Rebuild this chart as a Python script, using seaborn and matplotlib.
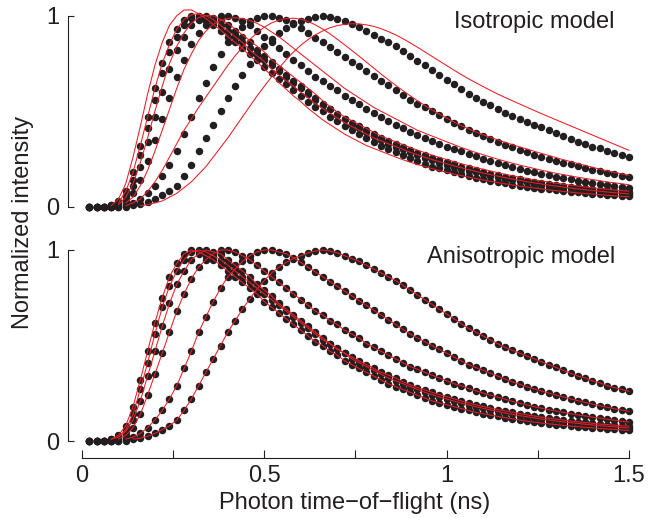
import matplotlib
matplotlib.use("Agg")
import matplotlib.pyplot as plt
import seaborn as sns
import pandas as pd
import numpy as np

# time bins (ns), one every 20 ps
t_ns = np.round(np.arange(1, 76) * 0.02, 2)

curve_a = [0, 0, 0, 0.01, 0.03, 0.08, 0.18, 0.32, 0.47, 0.62,
           0.75, 0.86, 0.93, 0.98, 1.00, 0.99, 0.97, 0.95, 0.92, 0.89,
           0.86, 0.83, 0.80, 0.77, 0.73, 0.70, 0.67, 0.64, 0.61, 0.58,
           0.55, 0.52, 0.50, 0.47, 0.45, 0.42, 0.40, 0.38, 0.36, 0.34,
           0.32, 0.30, 0.285, 0.27, 0.255, 0.24, 0.225, 0.21, 0.20, 0.19,
           0.18, 0.17, 0.16, 0.15, 0.143, 0.136, 0.129, 0.122, 0.116, 0.110,
           0.104, 0.099, 0.094, 0.090, 0.086, 0.082, 0.078, 0.075, 0.072, 0.069,
           0.066, 0.063, 0.061, 0.058, 0.056]
curve_b = [0, 0, 0, 0.01, 0.02, 0.06, 0.14, 0.27, 0.41, 0.56,
           0.70, 0.81, 0.89, 0.95, 0.99, 1.00, 0.99, 0.97, 0.95, 0.92,
           0.89, 0.86, 0.83, 0.80, 0.77, 0.74, 0.71, 0.68, 0.65, 0.62,
           0.59, 0.56, 0.53, 0.51, 0.48, 0.46, 0.43, 0.41, 0.39, 0.37,
           0.35, 0.33, 0.315, 0.30, 0.285, 0.27, 0.255, 0.243, 0.231, 0.22,
           0.209, 0.199, 0.189, 0.180, 0.171, 0.163, 0.155, 0.147, 0.140, 0.133,
           0.127, 0.121, 0.115, 0.110, 0.105, 0.100, 0.096, 0.092, 0.088, 0.084,
           0.080, 0.077, 0.074, 0.071, 0.068]
curve_c = [0, 0, 0, 0, 0.02, 0.05, 0.11, 0.21, 0.34, 0.47,
           0.60, 0.72, 0.82, 0.89, 0.95, 0.98, 1.00, 0.99, 0.98, 0.95,
           0.92, 0.89, 0.86, 0.82, 0.79, 0.76, 0.72, 0.69, 0.66, 0.63,
           0.60, 0.57, 0.54, 0.51, 0.485, 0.46, 0.44, 0.42, 0.40, 0.38,
           0.36, 0.345, 0.33, 0.31, 0.295, 0.28, 0.268, 0.255, 0.243, 0.232,
           0.221, 0.21, 0.20, 0.19, 0.181, 0.173, 0.165, 0.158, 0.151, 0.144,
           0.137, 0.131, 0.125, 0.12, 0.115, 0.11, 0.105, 0.101, 0.097, 0.093,
           0.089, 0.086, 0.083, 0.080, 0.078]
curve_d = [0, 0, 0, 0, 0.01, 0.03, 0.07, 0.14, 0.24, 0.35,
           0.46, 0.57, 0.68, 0.77, 0.85, 0.91, 0.95, 0.98, 1.00, 1.00,
           0.99, 0.97, 0.95, 0.92, 0.89, 0.86, 0.83, 0.80, 0.77, 0.74,
           0.71, 0.68, 0.66, 0.63, 0.61, 0.58, 0.56, 0.54, 0.51, 0.49,
           0.47, 0.45, 0.43, 0.41, 0.39, 0.375, 0.36, 0.345, 0.33, 0.315,
           0.30, 0.29, 0.275, 0.263, 0.251, 0.240, 0.230, 0.219, 0.208, 0.198,
           0.189, 0.180, 0.172, 0.164, 0.157, 0.150, 0.143, 0.137, 0.131, 0.125,
           0.120, 0.114, 0.109, 0.104, 0.100]
curve_e = [0, 0, 0, 0, 0, 0.01, 0.02, 0.04, 0.07, 0.11,
           0.16, 0.22, 0.29, 0.38, 0.47, 0.57, 0.65, 0.73, 0.80, 0.86,
           0.90, 0.94, 0.97, 0.99, 1.00, 1.00, 0.99, 0.98, 0.96, 0.935,
           0.91, 0.885, 0.86, 0.835, 0.81, 0.785, 0.76, 0.735, 0.71, 0.685,
           0.66, 0.635, 0.61, 0.585, 0.56, 0.54, 0.52, 0.50, 0.48, 0.46,
           0.44, 0.42, 0.40, 0.385, 0.37, 0.355, 0.34, 0.325, 0.31, 0.297,
           0.285, 0.273, 0.262, 0.251, 0.241, 0.231, 0.221, 0.211, 0.202, 0.193,
           0.185, 0.177, 0.169, 0.162, 0.155]
curve_f = [0, 0, 0, 0, 0, 0, 0.01, 0.015, 0.025, 0.04,
           0.06, 0.08, 0.11, 0.16, 0.22, 0.29, 0.36, 0.43, 0.50, 0.57,
           0.63, 0.69, 0.745, 0.795, 0.84, 0.88, 0.91, 0.935, 0.955, 0.97,
           0.985, 0.995, 1.00, 0.995, 0.985, 0.97, 0.955, 0.94, 0.92, 0.90,
           0.88, 0.86, 0.84, 0.815, 0.79, 0.765, 0.74, 0.715, 0.69, 0.665,
           0.64, 0.615, 0.59, 0.57, 0.55, 0.53, 0.51, 0.49, 0.475, 0.46,
           0.445, 0.43, 0.415, 0.40, 0.385, 0.37, 0.355, 0.34, 0.33, 0.315,
           0.305, 0.29, 0.28, 0.27, 0.26]

# isotropic-model fits (top panel)
iso_a = [0, 0, 0, 0.005, 0.04, 0.12, 0.26, 0.42, 0.59, 0.74,
         0.86, 0.95, 1.00, 1.03, 1.03, 1.01, 0.985, 0.955, 0.925, 0.89,
         0.86, 0.83, 0.79, 0.76, 0.72, 0.69, 0.65, 0.615, 0.58, 0.55,
         0.515, 0.485, 0.455, 0.43, 0.405, 0.38, 0.36, 0.34, 0.32, 0.305,
         0.29, 0.275, 0.26, 0.246, 0.233, 0.221, 0.21, 0.199, 0.189, 0.18,
         0.171, 0.163, 0.155, 0.147, 0.140, 0.133, 0.126, 0.120, 0.114, 0.108,
         0.103, 0.098, 0.093, 0.088, 0.084, 0.080, 0.076, 0.072, 0.069, 0.066,
         0.063, 0.060, 0.057, 0.054, 0.052]
iso_b = [0, 0, 0, 0, 0.02, 0.08, 0.18, 0.32, 0.47, 0.62,
         0.75, 0.85, 0.93, 0.98, 1.005, 1.01, 1.00, 0.98, 0.95, 0.92,
         0.89, 0.86, 0.82, 0.79, 0.76, 0.72, 0.69, 0.66, 0.63, 0.60,
         0.57, 0.54, 0.515, 0.49, 0.465, 0.44, 0.42, 0.40, 0.38, 0.36,
         0.345, 0.33, 0.315, 0.30, 0.285, 0.272, 0.259, 0.247, 0.236, 0.225,
         0.214, 0.204, 0.194, 0.185, 0.176, 0.168, 0.160, 0.152, 0.145, 0.138,
         0.131, 0.125, 0.119, 0.113, 0.108, 0.103, 0.098, 0.093, 0.089, 0.085,
         0.081, 0.077, 0.073, 0.070, 0.067]
iso_c = [0, 0, 0, 0, 0.01, 0.05, 0.12, 0.23, 0.36, 0.50,
         0.63, 0.75, 0.84, 0.91, 0.96, 0.99, 1.00, 1.00, 0.98, 0.96,
         0.93, 0.90, 0.87, 0.84, 0.81, 0.77, 0.74, 0.71, 0.68, 0.65,
         0.62, 0.59, 0.555, 0.525, 0.495, 0.47, 0.45, 0.43, 0.41, 0.39,
         0.37, 0.355, 0.34, 0.325, 0.31, 0.296, 0.283, 0.27, 0.258, 0.247,
         0.236, 0.225, 0.215, 0.205, 0.196, 0.187, 0.178, 0.170, 0.162, 0.155,
         0.148, 0.141, 0.135, 0.129, 0.123, 0.118, 0.113, 0.108, 0.103, 0.099,
         0.095, 0.091, 0.087, 0.084, 0.081]
iso_d = [0, 0, 0, 0, 0, 0.02, 0.05, 0.11, 0.19, 0.29,
         0.40, 0.51, 0.62, 0.72, 0.80, 0.87, 0.92, 0.955, 0.975, 0.985,
         0.99, 0.985, 0.975, 0.96, 0.94, 0.915, 0.89, 0.86, 0.83, 0.80,
         0.77, 0.74, 0.71, 0.68, 0.65, 0.62, 0.595, 0.57, 0.545, 0.52,
         0.50, 0.48, 0.46, 0.44, 0.42, 0.40, 0.385, 0.37, 0.355, 0.34,
         0.325, 0.31, 0.297, 0.284, 0.272, 0.26, 0.249, 0.238, 0.228, 0.218,
         0.209, 0.20, 0.191, 0.183, 0.175, 0.168, 0.161, 0.154, 0.148, 0.142,
         0.136, 0.130, 0.125, 0.120, 0.115]
iso_e = [0, 0, 0, 0, 0, 0.005, 0.02, 0.04, 0.08, 0.13,
         0.19, 0.26, 0.33, 0.40, 0.46, 0.52, 0.575, 0.63, 0.685, 0.74,
         0.79, 0.835, 0.875, 0.91, 0.94, 0.962, 0.977, 0.985, 0.987, 0.982,
         0.97, 0.952, 0.93, 0.905, 0.877, 0.848, 0.818, 0.788, 0.757, 0.726,
         0.695, 0.665, 0.636, 0.608, 0.581, 0.555, 0.53, 0.507, 0.485, 0.464,
         0.444, 0.425, 0.408, 0.392, 0.377, 0.363, 0.35, 0.337, 0.325, 0.313,
         0.302, 0.29, 0.279, 0.268, 0.257, 0.246, 0.236, 0.226, 0.216, 0.206,
         0.197, 0.188, 0.18, 0.172, 0.165]
iso_f = [0, 0, 0, 0, 0, 0, 0, 0.005, 0.01, 0.02,
         0.03, 0.05, 0.07, 0.10, 0.13, 0.17, 0.21, 0.26, 0.31, 0.36,
         0.415, 0.47, 0.525, 0.58, 0.63, 0.68, 0.725, 0.77, 0.81, 0.845,
         0.875, 0.90, 0.92, 0.937, 0.948, 0.955, 0.958, 0.957, 0.952, 0.944,
         0.932, 0.917, 0.90, 0.88, 0.858, 0.835, 0.811, 0.787, 0.763, 0.739,
         0.715, 0.692, 0.67, 0.649, 0.629, 0.609, 0.59, 0.572, 0.555, 0.538,
         0.521, 0.504, 0.487, 0.471, 0.455, 0.439, 0.423, 0.407, 0.391, 0.375,
         0.359, 0.343, 0.327, 0.311, 0.295]

measured = {"a": curve_a, "b": curve_b, "c": curve_c,
            "d": curve_d, "e": curve_e, "f": curve_f}
isotropic = {"a": iso_a, "b": iso_b, "c": iso_c,
             "d": iso_d, "e": iso_e, "f": iso_f}
# anisotropic fits lie on top of the measured points
anisotropic = measured

panel_titles = ["Isotropic model", "Anisotropic model"]
x_ticks = [0, 0.5, 1, 1.5]
x_tick_labels = ["0", "0.5", "1", "1.5"]


def to_long(curves):
    frames = [pd.DataFrame({"t": t_ns, "value": vals, "curve": name})
              for name, vals in curves.items()]
    return pd.concat(frames, ignore_index=True)


df_meas = to_long(measured)
df_fit = {"Isotropic model": to_long(isotropic),
          "Anisotropic model": to_long(anisotropic)}

sns.set_style("ticks")
plt.rcParams["font.family"] = ["Liberation Sans", "DejaVu Sans"]
ink = "#231f20"
red = "#ed1c24"

fig = plt.figure(figsize=(6.48, 5.18), dpi=100)
ax_top = fig.add_axes([0.1265, 0.601, 0.8441, 0.3687])
ax_bot = fig.add_axes([0.1265, 0.1486, 0.8441, 0.3688])

title_y = [0.9575, 0.504]
for ax, title, ty in zip([ax_top, ax_bot], panel_titles, title_y):
    sns.scatterplot(data=df_meas, x="t", y="value", ax=ax, color=ink,
                    s=29, linewidth=0, clip_on=False, legend=False, zorder=2)
    fit = df_fit[title]
    fit = fit[fit["value"] > 0]
    sns.lineplot(data=fit, x="t", y="value", units="curve", estimator=None,
                 ax=ax, color=red, linewidth=0.75, clip_on=False,
                 legend=False, zorder=3)
    ax.set_xlim(0, 1.5)
    ax.set_ylim(0, 1)
    ax.set_xlabel("")
    ax.set_ylabel("")
    ax.set_yticks([0, 1])
    ax.set_yticklabels(["0", "1"])
    ax.tick_params(axis="y", direction="in", length=4, width=0.8,
                   labelsize=17, pad=6, colors=ink)
    for side in ["top", "right"]:
        ax.spines[side].set_visible(False)
    ax.spines["left"].set_position(("outward", 10))
    ax.spines["left"].set_bounds(0, 1)
    ax.spines["left"].set_linewidth(0.8)
    ax.spines["left"].set_color(ink)
    fig.text(0.949, ty, title, ha="right", va="center", fontsize=17, color=ink)

ax_top.spines["bottom"].set_visible(False)
ax_top.set_xticks([])

ax_bot.set_xticks(x_ticks)
ax_bot.set_xticklabels(x_tick_labels)
ax_bot.set_xticks([0.25, 0.75, 1.25], minor=True)
ax_bot.tick_params(axis="x", which="both", direction="in", length=6,
                   width=0.8, labelsize=17, pad=5, colors=ink)
ax_bot.spines["bottom"].set_position(("outward", 12))
ax_bot.spines["bottom"].set_bounds(0, 1.5)
ax_bot.spines["bottom"].set_linewidth(0.8)
ax_bot.spines["bottom"].set_color(ink)

fig.text(0.548, 0.018, "Photon time\u2212of\u2212flight (ns)", ha="center",
         va="baseline", fontsize=17, color=ink)
fig.text(0.036, 0.571, "Normalized intensity", ha="center", va="center",
         rotation=90, fontsize=17, color=ink)

fig.savefig("out.png", dpi=100)
